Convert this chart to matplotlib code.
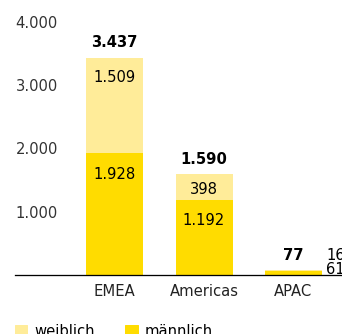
import matplotlib.pyplot as plt
from matplotlib.patches import Patch

regions = ["EMEA", "Americas", "APAC"]
maennlich = [1928, 1192, 61]
weiblich = [1509, 398, 16]
totals = [3437, 1590, 77]
yticks = [1000, 2000, 3000, 4000]
yticklabels = ["1.000", "2.000", "3.000", "4.000"]

c_m = "#FFDC00"
c_w = "#FFEC99"

def fmt(v):
    return f"{v:,}".replace(",", ".")

plt.rcParams['font.family'] = ['DejaVu Sans']
fs = 14.7

fig = plt.figure(figsize=(342 / 72, 334 / 72), dpi=72)
ax = fig.add_axes([15 / 342, 59 / 334, 327 / 342, 253 / 334])

x = list(range(len(regions)))
w = 0.637
ax.bar(x, maennlich, width=w, color=c_m, zorder=2)
ax.bar(x, weiblich, bottom=maennlich, width=w, color=c_w, zorder=2)

ax.set_xlim(-1.112, 2.542)
ax.set_ylim(0, 4000)

for s in ["top", "right", "left"]:
    ax.spines[s].set_visible(False)
ax.spines["bottom"].set_linewidth(1.3)
ax.spines["bottom"].set_zorder(3)

ax.set_yticks(yticks)
ax.set_yticklabels(yticklabels, color="#333333", fontsize=fs)
ax.tick_params(axis="y", length=0, pad=-43)
ax.set_xticks(x)
ax.set_xticklabels(regions, fontsize=fs, color="#222222")
ax.tick_params(axis="x", length=0, pad=9)

# labels
for i in range(2):
    top_w = maennlich[i] + weiblich[i]
    off_w = min(20, weiblich[i] * 0.0633 * 0.6)
    ax.annotate(fmt(weiblich[i]), (x[i], top_w), xytext=(0, -off_w),
                textcoords="offset points", ha="center", va="center", fontsize=fs)
    ax.annotate(fmt(maennlich[i]), (x[i], maennlich[i]), xytext=(0, -21),
                textcoords="offset points", ha="center", va="center", fontsize=fs)
for i in range(3):
    ax.annotate(fmt(totals[i]), (x[i], totals[i]), xytext=(0, 15),
                textcoords="offset points", ha="center", va="center",
                fontsize=fs, fontweight="bold")
# APAC small values to the right of the bar
ax.annotate(fmt(weiblich[2]), (x[2] + w / 2, totals[2]), xytext=(4, 14.5),
            textcoords="offset points", ha="left", va="center", fontsize=fs)
ax.annotate(fmt(maennlich[2]), (x[2] + w / 2, totals[2]), xytext=(4, 0.5),
            textcoords="offset points", ha="left", va="center", fontsize=fs)

handles = [Patch(color=c_w, label="weiblich"), Patch(color=c_m, label="männlich")]
fig.legend(handles=handles, loc="upper left", bbox_to_anchor=(15 / 342, 10 / 334),
           ncol=2, frameon=False, fontsize=fs, borderpad=0, borderaxespad=0,
           handlelength=0.85, handleheight=0.85, handletextpad=0.47,
           columnspacing=2.05)

fig.savefig("out.png", dpi=72)
